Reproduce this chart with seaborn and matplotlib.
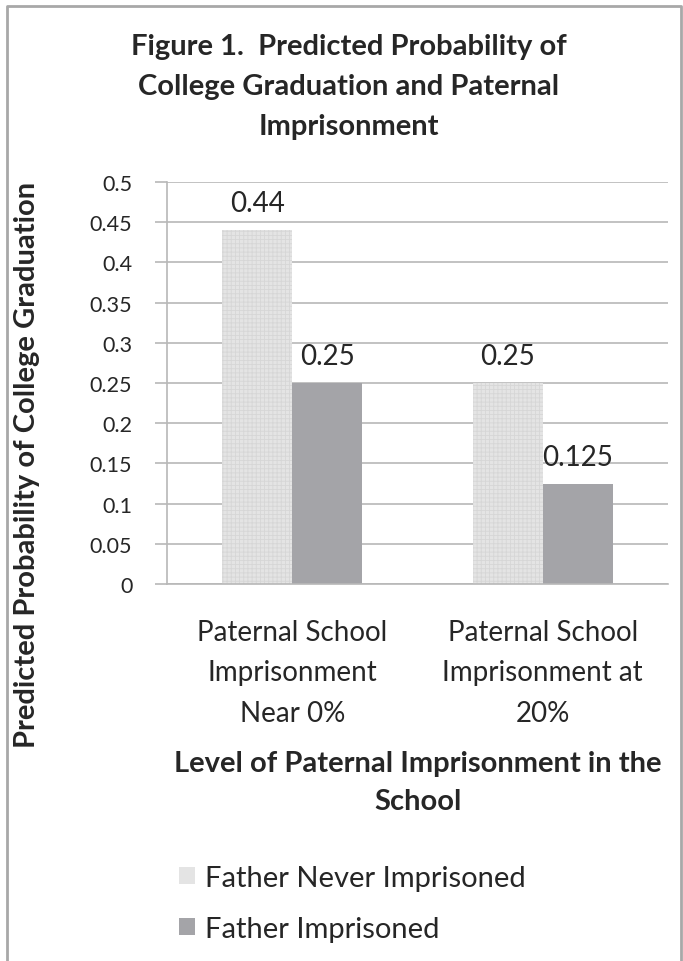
import numpy as np
import pandas as pd
import seaborn as sns
import matplotlib.pyplot as plt
from matplotlib.lines import Line2D

# =========================================================
# DATA
# =========================================================

categories = [
    "Paternal School\nImprisonment\nNear 0%",
    "Paternal School\nImprisonment at\n20%",
]
series = ["Father Never Imprisoned", "Father Imprisoned"]
never_imprisoned = [0.44, 0.25]
imprisoned = [0.25, 0.125]

yticks = [0, 0.05, 0.1, 0.15, 0.2, 0.25, 0.3, 0.35, 0.4, 0.45, 0.5]
ytick_labels = ["0", "0.05", "0.1", "0.15", "0.2", "0.25", "0.3", "0.35", "0.4", "0.45", "0.5"]

title = "Figure 1.  Predicted Probability of\nCollege Graduation and Paternal\nImprisonment"
xlabel = "Level of Paternal Imprisonment in the\nSchool"
ylabel = "Predicted Probability of College Graduation"

colors = {"Father Never Imprisoned": "#e4e4e4", "Father Imprisoned": "#a4a4a8"}
text_color = "#262626"

# =========================================================
# TABLE
# =========================================================

df = pd.DataFrame({
    "Level": categories * 2,
    "Group": [series[0]] * 2 + [series[1]] * 2,
    "Value": never_imprisoned + imprisoned,
})

# =========================================================
# PLOT
# =========================================================

sns.set_theme(style="white")
plt.rcParams["font.family"] = ["Lato", "DejaVu Sans"]
plt.rcParams["hatch.linewidth"] = 0.6

W, H = 683, 962
fig = plt.figure(figsize=(W / 100, H / 100), dpi=100)
ax = fig.add_axes([167 / W, 1 - 585 / H, (668 - 167) / W, (585 - 183) / H])

sns.barplot(
    data=df, x="Level", y="Value", hue="Group",
    hue_order=series, order=categories, palette=colors,
    width=0.56, gap=0, linewidth=0, saturation=1, ax=ax,
)

# faint dotted texture on the light bars
for bar in ax.containers[0]:
    bar.set_hatch("++++")
    bar.set_edgecolor("#d6d6d6")
    bar.set_linewidth(0)

for cont in ax.containers:
    ax.bar_label(cont, fmt="%g", padding=10, fontsize=20, color=text_color)

ax.set_ylim(0, 0.5)
ax.set_yticks(yticks)
ax.set_yticklabels(ytick_labels, fontsize=15.5, color=text_color)
ax.yaxis.grid(True, color="#b8b8b8", linewidth=1.2)
ax.set_axisbelow(True)
ax.tick_params(axis="y", length=9, width=1.2, color="#b8b8b8", pad=16, left=True)
ax.tick_params(axis="x", length=0, pad=25, labelsize=20, labelcolor=text_color)
for lab in ax.get_xticklabels():
    lab.set_linespacing(1.7)

for side in ["top", "right"]:
    ax.spines[side].set_visible(False)
ax.spines["left"].set_color("#b8b8b8")
ax.spines["left"].set_linewidth(1.2)
ax.spines["bottom"].set_color("#b8b8b8")
ax.spines["bottom"].set_linewidth(1.2)
ax.set_xlabel("")
ax.set_ylabel("")

fig.text(349 / W, 1 - 87 / H, title, ha="center", va="center", fontsize=21,
         fontweight="bold", color=text_color, linespacing=1.68)
fig.text(418 / W, 1 - 783 / H, xlabel, ha="center", va="center", fontsize=21,
         fontweight="bold", color=text_color, linespacing=1.6)
fig.text(27 / W, 1 - 465 / H, ylabel, ha="center", va="center", rotation=90,
         fontsize=21, fontweight="bold", color=text_color)

handles, labels = ax.get_legend_handles_labels()
ax.legend(
    handles, labels, loc="upper left", bbox_to_anchor=(179 / W, 1 - 866 / H),
    bbox_transform=fig.transFigure, frameon=False, fontsize=21, borderpad=0,
    borderaxespad=0, handlelength=0.55, handleheight=0.55, handletextpad=0.35,
    labelspacing=0.85, labelcolor=text_color,
)

# frame around the whole chart
fig.add_artist(Line2D([7 / W, 7 / W, 681 / W, 681 / W], [0, 1 - 7 / H, 1 - 7 / H, 0],
                      transform=fig.transFigure, color="#a8a8a8", linewidth=2))

plt.savefig("out.png", dpi=100)
